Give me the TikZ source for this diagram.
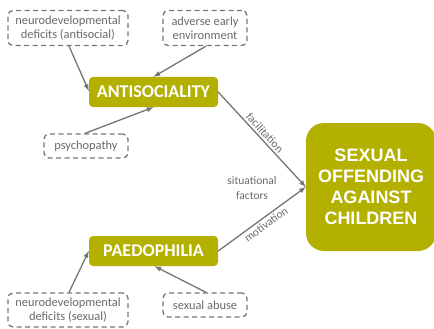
\documentclass[tikz,border=0pt]{standalone}
\usepackage{fontspec}
\setmainfont{Carlito}
\newfontfamily\headfont{Liberation Sans}
\usepackage{tikz}
\usetikzlibrary{calc}
\definecolor{olive}{HTML}{B3B000}
\definecolor{linegray}{HTML}{76766E}
\definecolor{textgray}{HTML}{6A6A66}

\begin{document}
\begin{tikzpicture}[x=1pt, y=-1pt, >=latex,
    factor/.style={draw=linegray, dashed, dash pattern=on 5pt off 3.5pt,
        line width=1.3pt, rounded corners=5pt, text=textgray,
        font=\fontsize{12.4}{14}\selectfont, align=center, inner sep=0pt},
    trait/.style={fill=olive, rounded corners=4pt, text=white,
        font=\fontsize{18}{20}\selectfont\bfseries, inner sep=0pt,
        minimum width=129pt, minimum height=30pt},
    link/.style={->, draw=linegray, line width=1.3pt},
    tag/.style={text=textgray, font=\fontsize{11.5}{15}\selectfont}
]
    \useasboundingbox (0,0) rectangle (434,329);
    % Outcome
    \node [fill=olive,
        rounded corners=18pt,
        minimum width=130pt,
        minimum height=128pt,
        inner sep=0pt,
        text=white,
        align=center,
        font=\headfont\fontsize{18}{21}\selectfont\bfseries
    ]  (Offending) at (371,187) {SEXUAL\\OFFENDING\\AGAINST\\CHILDREN};
    % Traits
    \node [trait]  (Antisociality) at (153.5,92) {ANTISOCIALITY};
    \node [trait]  (Paedophilia) at (153.5,251) {PAEDOPHILIA};
    % Factors
    \node [factor,
        minimum width=120pt,
        minimum height=35pt
    ]  (NeuroAnti) at (68,28) {neurodevelopmental\\deficits (antisocial)};
    \node [factor,
        minimum width=84pt,
        minimum height=35pt
    ]  (Adverse) at (205,28) {adverse early\\environment};
    \node [factor,
        minimum width=84pt,
        minimum height=24pt
    ]  (Psychopathy) at (86,146) {psychopathy};
    \node [factor,
        minimum width=120pt,
        minimum height=34pt
    ]  (NeuroSex) at (68,310) {neurodevelopmental\\deficits (sexual)};
    \node [factor,
        minimum width=84pt,
        minimum height=24pt
    ]  (Abuse) at (205,305) {sexual abuse};
    \node [tag, align=center] (Situational) at (252,188) {situational\\factors};

    \draw [link] ($(NeuroAnti.south)+(1,0)$) -- ($(Antisociality.west)+(0,-1)$);
    \draw [link] ($(Adverse.south)+(1,0)$) -- (Antisociality.north);
    \draw [link] ($(Psychopathy.north)+(-1,0)$) -- (Antisociality.south);
    \draw [link] ($(NeuroSex.north)+(1,0)$) -- (Paedophilia.west);
    \draw [link] ($(Abuse.north)+(1,0)$) -- ($(Paedophilia.south)+(1,0)$);
    \draw [link] (Antisociality.east) -- (Offending.west)
        node[midway, above, sloped, tag, inner sep=2pt, xshift=-3pt]{facilitation};
    \draw [link] (Paedophilia.east) -- (Offending.west)
        node[midway, below, sloped, tag, inner sep=2pt]{motivation};
\end{tikzpicture}
\end{document}
